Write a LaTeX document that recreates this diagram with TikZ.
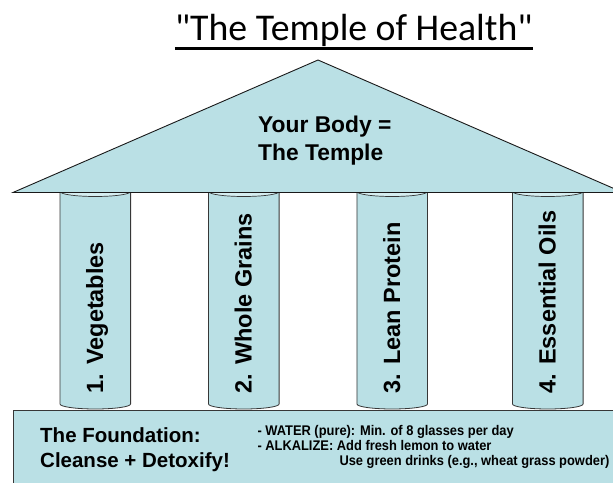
\documentclass[tikz,border=0pt]{standalone}
\usepackage{fontspec}
\setmainfont{Liberation Sans}
\newfontfamily\titlefont{Carlito}[Ligatures=TeXOff]
\newfontfamily\narrowfont{Liberation Sans}[FakeStretch=0.92]
\usetikzlibrary{calc}

\definecolor{tblue}{RGB}{186,224,229}
\definecolor{ttop}{RGB}{214,238,241}
\definecolor{tline}{RGB}{55,55,55}
\definecolor{troof}{RGB}{25,25,25}

\begin{document}
\begin{tikzpicture}[x=1pt,y=1pt,
  stone/.style={fill=tblue, draw=tline, line width=0.8pt},
  topface/.style={fill=ttop, draw=tline, line width=0.7pt},
  rooftext/.style={inner sep=0pt, anchor=base west, font=\fontsize{22.8}{26}\selectfont\bfseries},
  collabel/.style={inner sep=0pt, rotate=90, anchor=base west, font=\fontsize{23.5}{27}\selectfont\bfseries},
  basetext/.style={inner sep=0pt, anchor=base west, font=\fontsize{20.5}{24}\selectfont\bfseries},
  notetext/.style={inner sep=0pt, anchor=base west, font=\narrowfont\fontsize{14}{16}\selectfont\bfseries}]
\useasboundingbox (0,0) rectangle (613,482);
\clip (0,0) rectangle (613,482);

% title, underlined
\node[inner sep=0pt, anchor=base, font=\titlefont\fontsize{37.8}{42}\selectfont] (title) at (353.8,441.5) {"The Temple of Health"};
\draw[line width=2.6pt, black] ($(title.base west)+(0,-7.8)$) -- ($(title.base east)+(0,-7.8)$);

% foundation slab
\path[stone] (13.3,72) rectangle (640,-20);
\node[basetext] (found1) at (40,39.3) {The Foundation:};
\node[basetext] (found2) at (40,14.7) {Cleanse + Detoxify!};
\node[notetext] (note1) at (257.3,46) {- WATER (pure): Min. of 8 glasses per day};
\node[notetext] (note2) at (257.3,31.7) {- ALKALIZE: Add fresh lemon to water};
\node[notetext] (note3) at (339.3,16.3) {Use green drinks (e.g., wheat grass powder)};

% the four pillars
\foreach \cx/\lab [count=\i] in {95.3/1. Vegetables, 243.8/2. Whole Grains, 392.2/3. Lean Protein, 547.8/4. Essential Oils}{
  \path[stone] (\cx-35.3,290.5) -- (\cx-35.3,78)
    arc[start angle=180, end angle=360, x radius=35.3pt, y radius=5pt]
    -- (\cx+35.3,290.5) -- cycle;
  \path[topface] (\cx,290.5) ellipse[x radius=35.3pt, y radius=5pt];
  \node[collabel] (col\i) at (\cx+7.8,88.7) {\lab};
}

% roof
\path[fill=tblue, draw=troof, line width=0.9pt, line join=miter] (13,289.5) -- (318,422) -- (623,289.5) -- cycle;
\node[rooftext] (body1) at (258,349.3) {Your Body =};
\node[rooftext] (body2) at (258,321) {The Temple};
\end{tikzpicture}
\end{document}
